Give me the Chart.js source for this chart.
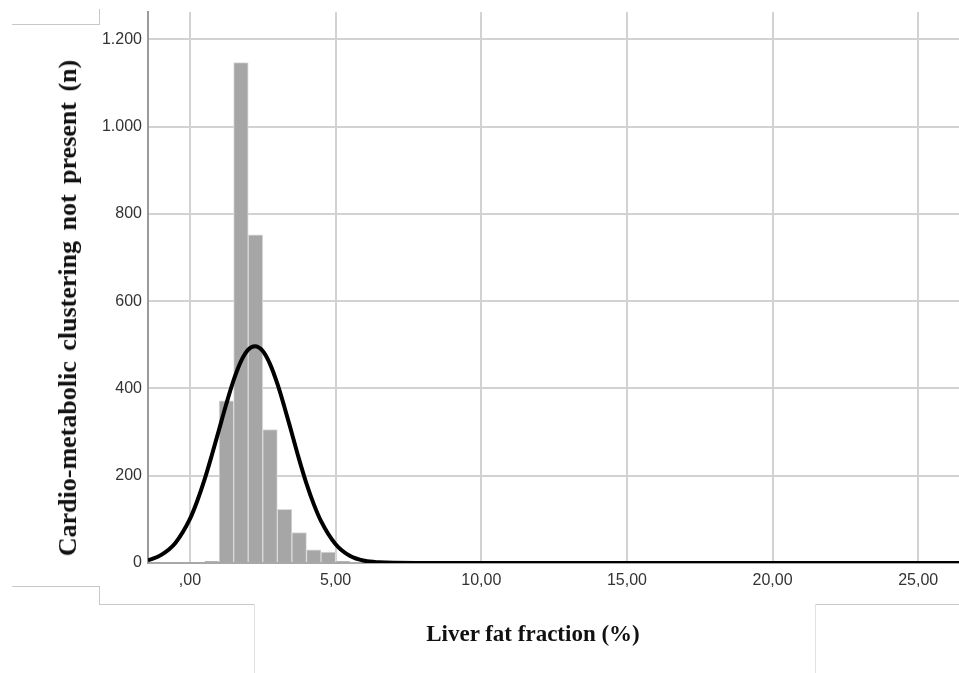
<!DOCTYPE html>
<html>
<head>
    <title>Liver fat fraction histogram</title>
    <script src="https://cdn.jsdelivr.net/npm/chart.js"></script>
    <style>
        body {
            margin: 0;
            background: #fff;
            width: 959px;
            height: 673px;
            position: relative;
            overflow: hidden;
        }

        .wrap {
            position: absolute;
            left: 0;
            top: 0;
            width: 959px;
            height: 673px;
        }

        .edge {
            position: absolute;
            background: #c8c8c8;
        }

        .edge.soft {
            background: #e2e2e2;
        }

        .axis-title {
            position: absolute;
            font-family: 'Liberation Serif', 'Times New Roman', serif;
            font-weight: bold;
            color: #111;
            white-space: nowrap;
        }

        .y-title {
            left: 68px;
            top: 308px;
            font-size: 26px;
            transform: translate(-50%, -50%) rotate(-90deg);
            word-spacing: 4px;
        }

        .x-title {
            left: 533px;
            top: 634px;
            font-size: 23px;
            transform: translate(-50%, -50%);
        }
    </style>
</head>
<body>
    <!-- leftover frame lines around the figure -->
    <div class="edge" style="left:12px; top:24px; width:88px; height:1px;"></div>
    <div class="edge" style="left:99px; top:9px; width:1px; height:16px;"></div>
    <div class="edge" style="left:12px; top:586px; width:88px; height:1px;"></div>
    <div class="edge" style="left:99px; top:586px; width:1px; height:19px;"></div>
    <div class="edge" style="left:99px; top:604px; width:156px; height:1px;"></div>
    <div class="edge soft" style="left:254px; top:604px; width:1px; height:69px;"></div>
    <div class="edge" style="left:815px; top:604px; width:144px; height:1px;"></div>
    <div class="edge soft" style="left:815px; top:604px; width:1px; height:69px;"></div>

    <div class="wrap">
        <canvas id="histChart" width="959" height="673"></canvas>
    </div>

    <div class="axis-title y-title">Cardio-metabolic clustering not present (n)</div>
    <div class="axis-title x-title">Liver fat fraction (%)</div>

<script>
    // histogram bins (centre of each 0,5 wide bin) and counts
    const binCenters = [0.75, 1.25, 1.75, 2.25, 2.75, 3.25, 3.75, 4.25, 4.75, 5.25, 5.75, 6.25, 6.75];
    const binCounts = [4, 372, 1147, 752, 306, 123, 70, 30, 25, 4, 2, 1, 1];

    // normal curve
    const curveX = [-1.44, -1, -0.5, 0, 0.25, 0.5, 0.75, 1, 1.25, 1.5, 1.75, 2, 2.23, 2.5, 2.75, 3, 3.25, 3.5, 3.75, 4, 4.25, 4.5, 5, 5.5, 6, 6.5, 7, 8, 26.4];
    const curveY = [6, 18, 46, 101, 142, 191, 247, 306, 365, 419, 462, 489, 497, 486, 456, 411, 356, 297, 237, 182, 135, 96, 43, 16, 5, 1.5, 0.3, 0, 0];

    // axis ticks
    const xTickValues = [0, 5, 10, 15, 20, 25];
    const xTickLabels = [',00', '5,00', '10,00', '15,00', '20,00', '25,00'];
    const yTickValues = [0, 200, 400, 600, 800, 1000, 1200];
    const yTickLabels = ['0', '200', '400', '600', '800', '1.000', '1.200'];

    const ctx = document.getElementById('histChart').getContext('2d');

    new Chart(ctx, {
        type: 'bar',
        data: {
            datasets: [{
                type: 'line',
                label: 'Normal',
                data: curveX.map((x, i) => ({ x: x, y: curveY[i] })),
                borderColor: '#000',
                borderWidth: 4,
                pointRadius: 0,
                cubicInterpolationMode: 'monotone',
                fill: false,
                order: 0
            },
            {
                label: 'Count',
                data: binCenters.map((x, i) => ({ x: x, y: binCounts[i] })),
                backgroundColor: '#a6a6a6',
                borderColor: '#dadada',
                borderWidth: 1,
                borderSkipped: 'bottom',
                barPercentage: 1,
                categoryPercentage: 1,
                order: 1
            }]
        },
        options: {
            responsive: false,
            animation: false,
            layout: {
                padding: { top: 12, left: 0, right: 0, bottom: 0 }
            },
            plugins: {
                legend: { display: false },
                tooltip: { enabled: false }
            },
            scales: {
                x: {
                    type: 'linear',
                    min: -1.44,
                    max: 26.4,
                    offset: false,
                    afterBuildTicks: axis => {
                        axis.ticks = xTickValues.map(v => ({ value: v }));
                    },
                    afterFit: axis => {
                        axis.height = 110;
                    },
                    ticks: {
                        callback: (v, i) => xTickLabels[i],
                        font: { family: "'Liberation Sans', Arial, sans-serif", size: 16 },
                        color: '#333',
                        padding: 8,
                        maxRotation: 0
                    },
                    grid: {
                        color: '#d2d2d2',
                        lineWidth: 2,
                        drawTicks: false,
                        offset: false
                    },
                    border: { color: '#a8a8a8', width: 2 }
                },
                y: {
                    min: 0,
                    max: 1263,
                    afterBuildTicks: axis => {
                        axis.ticks = yTickValues.map(v => ({ value: v }));
                    },
                    afterFit: axis => {
                        axis.width = 148;
                        axis.paddingTop = 0;
                        axis.paddingBottom = 0;
                    },
                    ticks: {
                        callback: (v, i) => yTickLabels[i],
                        font: { family: "'Liberation Sans', Arial, sans-serif", size: 16 },
                        color: '#333',
                        padding: 6
                    },
                    grid: {
                        color: '#d2d2d2',
                        lineWidth: 2,
                        drawTicks: false
                    },
                    border: { color: '#9a9a9a', width: 2 }
                }
            }
        }
    });
</script>
</body>
</html>
